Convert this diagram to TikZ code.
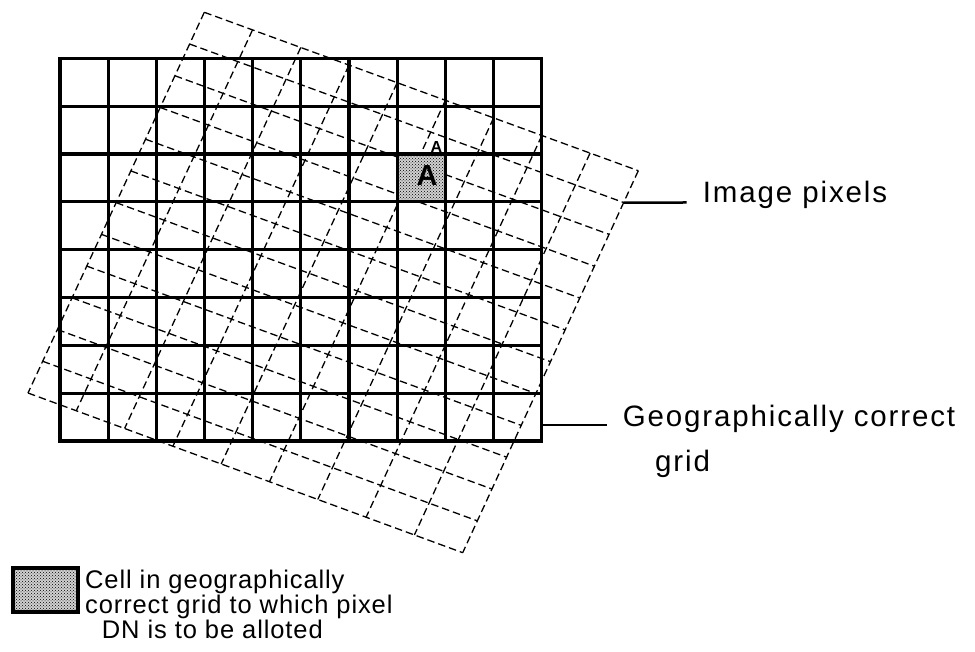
\documentclass[tikz,border=0pt]{standalone}
\usepackage{fontspec}
\setmainfont{Liberation Sans}
\newfontfamily\labelfont{Liberation Sans}[LetterSpace=6.3]
\newfontfamily\keyfont{Liberation Sans}[LetterSpace=3.5]
\usepackage{tikz}
\usetikzlibrary{calc,patterns,positioning}

\tikzset{
    pixline/.style={line width=3.2pt},
    geoline/.style={line width=1.3pt, dash pattern=on 7.5pt off 4pt},
    dotcell/.style={fill=black!18, postaction={pattern=crosshatch dots}},
    leader/.style={line width=2.5pt},
    bigtext/.style={font=\labelfont\fontsize{29.5}{36}\selectfont, inner sep=0pt, anchor=base west},
    keytext/.style={font=\keyfont\fontsize{25.5}{25}\selectfont, inner sep=0pt, anchor=base west}
}

\begin{document}
\begin{tikzpicture}[x=1pt, y=-1pt]
    \useasboundingbox (0,0) rectangle (975,652);

    % corners of the rotated (dashed) grid
    \coordinate (T) at (204.3,12.3);
    \coordinate (R) at (638.3,170.7);
    \coordinate (B) at (462.7,552.7);
    \coordinate (L) at (28,393);

    % dashed grid, 9 x 12 cells
    \foreach \i in {0,...,9}
        \draw[geoline] ($(T)!\i/9!(R)$) -- ($(L)!\i/9!(B)$);
    \foreach \j in {0,...,12}
        \draw[geoline] ($(T)!\j/12!(L)$) -- ($(R)!\j/12!(B)$);

    % shaded cell
    \filldraw[dotcell, draw=none] (397.2,154) rectangle (445.4,201.9);

    % image pixels, 10 x 8
    \foreach \c in {1,...,9}
        \draw[pixline] (60+\c*48.17,58.3) -- (60+\c*48.17,441);
    \foreach \r in {1,...,7}
        \draw[pixline] (60,58.3+\r*47.84) -- (541.7,58.3+\r*47.84);
    \draw[pixline] (60,58.3) rectangle (541.7,441);

    \node[font=\bfseries\fontsize{29}{30}\selectfont, inner sep=0pt] (Abig) at (427,176) {A};
    \node[font=\bfseries\fontsize{16}{17}\selectfont, inner sep=0pt] (Asmall) at (436.5,147) {A};

    % labels
    \coordinate (ipA) at ($(R)!1/12!(B)$);
    \coordinate (ipB) at (686.7,202.5);
    \draw[leader] (ipA) -- (ipB);
    \node[bigtext] (imgpix) at ([xshift=16pt]ipB) {Image pixels};

    \coordinate (gcA) at (541.7,425);
    \coordinate (gcB) at (606.7,425);
    \draw[leader] (gcA) -- (gcB);
    \node[bigtext] (geocor) at ([xshift=16pt,yshift=-1.7pt]gcB) {Geographically correct};
    \node[bigtext] (geogrid) at (655,471) {grid};

    % key
    \draw[line width=3.5pt, dotcell] (13,568) rectangle (78,612);
    \node[keytext] (key1) at (85,588.3) {Cell in geographically};
    \node[keytext] (key2) at ([yshift=-25pt]key1.base west) {correct grid to which pixel};
    \node[keytext] (key3) at ([xshift=16.7pt,yshift=-25pt]key2.base west) {DN is to be alloted};
\end{tikzpicture}
\end{document}
